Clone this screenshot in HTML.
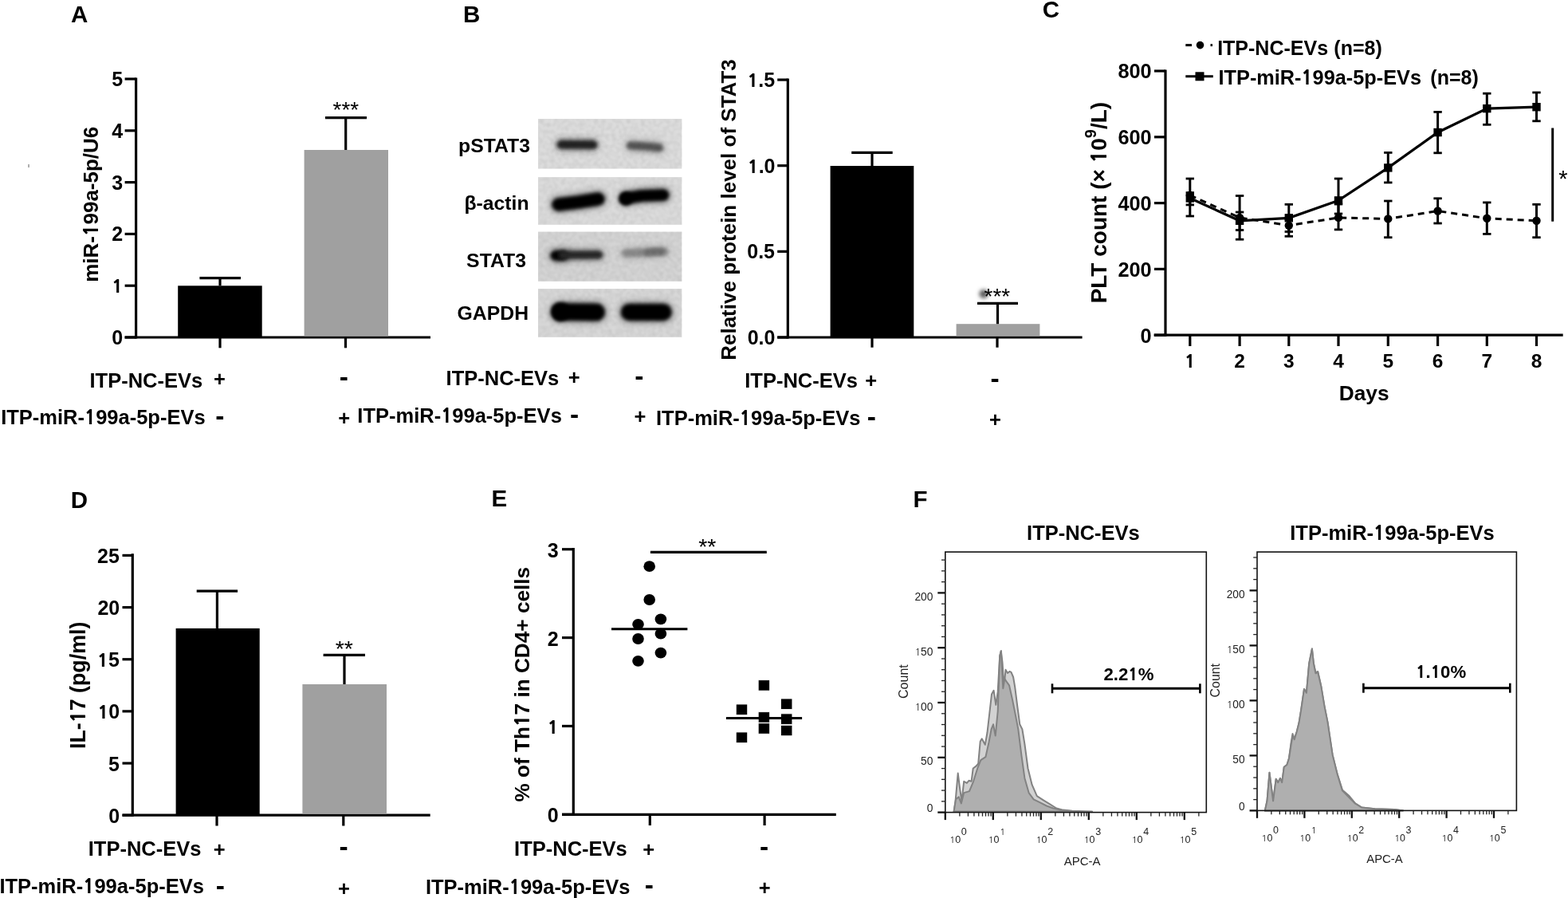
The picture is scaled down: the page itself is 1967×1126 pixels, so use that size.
<!DOCTYPE html>
<html><head><meta charset="utf-8"><style>
html,body{margin:0;padding:0;background:#fff;}
svg{display:block;}
text{font-family:'Liberation Sans', Arial, sans-serif;}
</style></head><body>
<svg width="1967" height="1126" viewBox="0 0 1967 1126">
<rect width="1967" height="1126" fill="#fff"/>
<text x="89.05" y="28.20" font-size="29.5" font-weight="bold" fill="#000" >A</text>
<line x1="170.60" y1="424.60" x2="170.60" y2="97.40" stroke="#000" stroke-width="3.2" />
<line x1="156.60" y1="423.00" x2="170.60" y2="423.00" stroke="#000" stroke-width="3.2" />
<text x="140.32" y="431.95" font-size="25" font-weight="bold" fill="#000" >0</text>
<line x1="156.60" y1="358.20" x2="170.60" y2="358.20" stroke="#000" stroke-width="3.2" />
<text x="140.37" y="367.15" font-size="25" font-weight="bold" fill="#000" ><tspan font-family="NanumGothic, Liberation Sans, sans-serif" font-weight="800" font-size="22.93">1</tspan></text>
<line x1="156.60" y1="293.40" x2="170.60" y2="293.40" stroke="#000" stroke-width="3.2" />
<text x="140.32" y="302.35" font-size="25" font-weight="bold" fill="#000" >2</text>
<line x1="156.60" y1="228.60" x2="170.60" y2="228.60" stroke="#000" stroke-width="3.2" />
<text x="140.32" y="237.55" font-size="25" font-weight="bold" fill="#000" >3</text>
<line x1="156.60" y1="163.80" x2="170.60" y2="163.80" stroke="#000" stroke-width="3.2" />
<text x="140.32" y="172.75" font-size="25" font-weight="bold" fill="#000" >4</text>
<line x1="156.60" y1="99.00" x2="170.60" y2="99.00" stroke="#000" stroke-width="3.2" />
<text x="140.32" y="107.95" font-size="25" font-weight="bold" fill="#000" >5</text>
<line x1="156.60" y1="423.00" x2="540.00" y2="423.00" stroke="#000" stroke-width="3.2" />
<rect x="223.20" y="358.30" width="105.50" height="64.70" fill="#000" />
<line x1="276.00" y1="358.30" x2="276.00" y2="348.60" stroke="#000" stroke-width="3.2" />
<line x1="250.40" y1="348.60" x2="302.00" y2="348.60" stroke="#000" stroke-width="3.2" />
<rect x="381.60" y="188.00" width="105.40" height="233.40" fill="#a0a0a0" />
<line x1="433.70" y1="188.00" x2="433.70" y2="147.70" stroke="#000" stroke-width="3.2" />
<line x1="408.00" y1="147.70" x2="460.00" y2="147.70" stroke="#000" stroke-width="3.2" />
<text x="417.49" y="147.01" font-size="28" font-weight="normal" fill="#000" >***</text>
<line x1="276.00" y1="423.00" x2="276.00" y2="436.30" stroke="#000" stroke-width="3.2" />
<line x1="433.50" y1="423.00" x2="433.50" y2="436.30" stroke="#000" stroke-width="3.2" />
<text x="123.20" y="353.74" transform="rotate(-90 123.20 353.74)" font-size="26" font-weight="bold" fill="#000">miR-<tspan font-family="NanumGothic, Liberation Sans, sans-serif" font-weight="800" font-size="23.84">1</tspan>99a-5p/U6</text>
<text x="112.51" y="485.80" font-size="25.5" font-weight="bold" fill="#000" >ITP-NC-EVs</text>
<text x="268.00" y="484.10" font-size="25.5" font-weight="bold" fill="#000" >+</text>
<text x="425.74" y="483.82" font-size="33.5" font-weight="bold" fill="#000" >-</text>
<text x="1.14" y="532.00" font-size="25.5" font-weight="bold" fill="#000" >ITP-miR-<tspan font-family="NanumGothic, Liberation Sans, sans-serif" font-weight="800" font-size="23.38">1</tspan>99a-5p-EVs</text>
<text x="270.14" y="533.23" font-size="33.5" font-weight="bold" fill="#000" >-</text>
<text x="424.30" y="533.00" font-size="25.5" font-weight="bold" fill="#000" >+</text>
<rect x="35.00" y="206.00" width="2.00" height="4.00" fill="#b0b0b0" />
<text x="581.00" y="28.10" font-size="29.5" font-weight="bold" fill="#000" >B</text>
<rect x="675.00" y="149.00" width="180.30" height="62.50" fill="#dedede" />
<rect x="675.00" y="222.10" width="180.30" height="59.70" fill="#dddddd" />
<rect x="675.00" y="290.60" width="180.30" height="62.20" fill="#d6d6d6" />
<rect x="675.00" y="362.10" width="180.30" height="60.70" fill="#d9d9d9" />
<defs>
<filter id="bb" filterUnits="userSpaceOnUse" x="660" y="140" width="210" height="290"><feGaussianBlur stdDeviation="2.3"/></filter>
<filter id="bh" filterUnits="userSpaceOnUse" x="660" y="140" width="210" height="290"><feGaussianBlur stdDeviation="4.5"/></filter>
<filter id="sm" x="-100%" y="-100%" width="300%" height="300%"><feGaussianBlur stdDeviation="2.4"/></filter>
<filter id="grain" x="0" y="0" width="100%" height="100%"><feTurbulence type="fractalNoise" baseFrequency="0.22" numOctaves="2" seed="7" result="n"/><feColorMatrix in="n" type="matrix" values="0 0 0 0 0  0 0 0 0 0  0 0 0 0 0  0.16 0 0 0 -0.05"/><feGaussianBlur stdDeviation="0.9"/></filter>
</defs>
<polyline points="704,181.3 744,181.6" fill="none" stroke="#242424" stroke-width="14.5" stroke-linecap="round" stroke-linejoin="round" opacity="0.45" filter="url(#bh)"/>
<polyline points="704,181.3 744,181.6" fill="none" stroke="#242424" stroke-width="10.5" stroke-linecap="round" stroke-linejoin="round" filter="url(#bb)"/>
<polyline points="791,182.4 810,183.6 827,185.3" fill="none" stroke="#545454" stroke-width="13.5" stroke-linecap="round" stroke-linejoin="round" opacity="0.45" filter="url(#bh)"/>
<polyline points="791,182.4 810,183.6 827,185.3" fill="none" stroke="#545454" stroke-width="9.5" stroke-linecap="round" stroke-linejoin="round" filter="url(#bb)"/>
<polyline points="700.5,256.5 725,253.5 750.5,249.5" fill="none" stroke="#000" stroke-width="20" stroke-linecap="round" stroke-linejoin="round" opacity="0.45" filter="url(#bh)"/>
<polyline points="700.5,256.5 725,253.5 750.5,249.5" fill="none" stroke="#000" stroke-width="16" stroke-linecap="round" stroke-linejoin="round" filter="url(#bb)"/>
<circle cx="785" cy="249.3" r="8.5" fill="#000" filter="url(#bb)"/>
<polyline points="785,248.5 805,245.5 832,244.6" fill="none" stroke="#000" stroke-width="18.5" stroke-linecap="round" stroke-linejoin="round" opacity="0.45" filter="url(#bh)"/>
<polyline points="785,248.5 805,245.5 832,244.6" fill="none" stroke="#000" stroke-width="14.5" stroke-linecap="round" stroke-linejoin="round" filter="url(#bb)"/>
<polyline points="697,320.4 706,320.4" fill="none" stroke="#000" stroke-width="16.5" stroke-linecap="round" stroke-linejoin="round" opacity="0.45" filter="url(#bh)"/>
<polyline points="697,320.4 706,320.4" fill="none" stroke="#000" stroke-width="12.5" stroke-linecap="round" stroke-linejoin="round" filter="url(#bb)"/>
<polyline points="706,319.8 751,319.6" fill="none" stroke="#262626" stroke-width="14" stroke-linecap="round" stroke-linejoin="round" opacity="0.45" filter="url(#bh)"/>
<polyline points="706,319.8 751,319.6" fill="none" stroke="#262626" stroke-width="10" stroke-linecap="round" stroke-linejoin="round" filter="url(#bb)"/>
<polyline points="785,317.4 810,316.5 833,315.4" fill="none" stroke="#8a8a8a" stroke-width="13.5" stroke-linecap="round" stroke-linejoin="round" opacity="0.45" filter="url(#bh)"/>
<polyline points="785,317.4 810,316.5 833,315.4" fill="none" stroke="#8a8a8a" stroke-width="9.5" stroke-linecap="round" stroke-linejoin="round" filter="url(#bb)"/>
<polyline points="812,316.3 830,315.5" fill="none" stroke="#6e6e6e" stroke-width="11" stroke-linecap="round" stroke-linejoin="round" opacity="0.2" filter="url(#bh)"/>
<polyline points="812,316.3 830,315.5" fill="none" stroke="#6e6e6e" stroke-width="7" stroke-linecap="round" stroke-linejoin="round" filter="url(#bb)"/>
<polyline points="703,391 748,391.5" fill="none" stroke="#000" stroke-width="25.5" stroke-linecap="round" stroke-linejoin="round" opacity="0.45" filter="url(#bh)"/>
<polyline points="703,391 748,391.5" fill="none" stroke="#000" stroke-width="21.5" stroke-linecap="round" stroke-linejoin="round" filter="url(#bb)"/>
<circle cx="703" cy="391" r="11.5" fill="#000" filter="url(#bb)"/>
<polyline points="789.5,391.4 832,391.4" fill="none" stroke="#000" stroke-width="25" stroke-linecap="round" stroke-linejoin="round" opacity="0.45" filter="url(#bh)"/>
<polyline points="789.5,391.4 832,391.4" fill="none" stroke="#000" stroke-width="21" stroke-linecap="round" stroke-linejoin="round" filter="url(#bb)"/>
<rect x="675" y="149" width="180.3" height="62.5" fill="#000" filter="url(#grain)"/>
<rect x="675" y="222.1" width="180.3" height="59.7" fill="#000" filter="url(#grain)"/>
<rect x="675" y="290.6" width="180.3" height="62.2" fill="#000" filter="url(#grain)"/>
<rect x="675" y="362.1" width="180.3" height="60.7" fill="#000" filter="url(#grain)"/>
<text x="575.00" y="191.40" font-size="24.8" font-weight="bold" fill="#000" >pSTAT3</text>
<text x="582.38" y="262.60" font-size="24.8" font-weight="bold" fill="#000" >β-actin</text>
<text x="585.12" y="334.50" font-size="24.8" font-weight="bold" fill="#000" >STAT3</text>
<text x="573.55" y="401.00" font-size="24.8" font-weight="bold" fill="#000" >GAPDH</text>
<line x1="988.30" y1="424.60" x2="988.30" y2="98.50" stroke="#000" stroke-width="3.2" />
<line x1="975.20" y1="423.00" x2="988.30" y2="423.00" stroke="#000" stroke-width="3.2" />
<text x="937.65" y="431.95" font-size="25" font-weight="bold" fill="#000" >0.0</text>
<line x1="975.20" y1="315.35" x2="988.30" y2="315.35" stroke="#000" stroke-width="3.2" />
<text x="937.27" y="324.30" font-size="25" font-weight="bold" fill="#000" >0.5</text>
<line x1="975.20" y1="207.70" x2="988.30" y2="207.70" stroke="#000" stroke-width="3.2" />
<text x="937.77" y="216.65" font-size="25" font-weight="bold" fill="#000" ><tspan font-family="NanumGothic, Liberation Sans, sans-serif" font-weight="800" font-size="22.93">1</tspan>.0</text>
<line x1="975.20" y1="100.05" x2="988.30" y2="100.05" stroke="#000" stroke-width="3.2" />
<text x="937.40" y="109.00" font-size="25" font-weight="bold" fill="#000" ><tspan font-family="NanumGothic, Liberation Sans, sans-serif" font-weight="800" font-size="22.93">1</tspan>.5</text>
<line x1="975.20" y1="423.00" x2="1357.60" y2="423.00" stroke="#000" stroke-width="3.2" />
<rect x="1041.60" y="208.00" width="104.70" height="215.00" fill="#000" />
<line x1="1094.00" y1="208.00" x2="1094.00" y2="191.40" stroke="#000" stroke-width="3.2" />
<line x1="1068.20" y1="191.40" x2="1119.70" y2="191.40" stroke="#000" stroke-width="3.2" />
<rect x="1199.60" y="406.20" width="104.80" height="15.20" fill="#a0a0a0" />
<line x1="1251.50" y1="406.20" x2="1251.50" y2="380.30" stroke="#000" stroke-width="3.2" />
<line x1="1226.00" y1="380.30" x2="1277.00" y2="380.30" stroke="#000" stroke-width="3.2" />
<circle cx="1234" cy="368.5" r="5.5" fill="#5a5a5a" filter="url(#sm)"/>
<text x="1234.49" y="380.61" font-size="28" font-weight="normal" fill="#000" >***</text>
<line x1="1094.00" y1="423.00" x2="1094.00" y2="435.70" stroke="#000" stroke-width="3.2" />
<line x1="1251.00" y1="423.00" x2="1251.00" y2="435.70" stroke="#000" stroke-width="3.2" />
<text x="922.90" y="451.79" transform="rotate(-90 922.90 451.79)" font-size="26" font-weight="bold" fill="#000">Relative protein level of STAT3</text>
<text x="559.58" y="482.80" font-size="25.5" font-weight="bold" fill="#000" >ITP-NC-EVs</text>
<text x="712.80" y="481.50" font-size="25.5" font-weight="bold" fill="#000" >+</text>
<text x="796.24" y="483.12" font-size="33.5" font-weight="bold" fill="#000" >-</text>
<text x="448.33" y="529.60" font-size="25.5" font-weight="bold" fill="#000" >ITP-miR-<tspan font-family="NanumGothic, Liberation Sans, sans-serif" font-weight="800" font-size="23.38">1</tspan>99a-5p-EVs</text>
<text x="715.04" y="530.62" font-size="33.5" font-weight="bold" fill="#000" >-</text>
<text x="795.50" y="531.10" font-size="25.5" font-weight="bold" fill="#000" >+</text>
<text x="934.28" y="486.00" font-size="25.5" font-weight="bold" fill="#000" >ITP-NC-EVs</text>
<text x="1085.30" y="485.50" font-size="25.5" font-weight="bold" fill="#000" >+</text>
<text x="1242.44" y="485.93" font-size="33.5" font-weight="bold" fill="#000" >-</text>
<text x="823.03" y="532.70" font-size="25.5" font-weight="bold" fill="#000" >ITP-miR-<tspan font-family="NanumGothic, Liberation Sans, sans-serif" font-weight="800" font-size="23.38">1</tspan>99a-5p-EVs</text>
<text x="1087.64" y="534.12" font-size="33.5" font-weight="bold" fill="#000" >-</text>
<text x="1241.00" y="534.70" font-size="25.5" font-weight="bold" fill="#000" >+</text>
<text x="1307.75" y="22.10" font-size="29.5" font-weight="bold" fill="#000" >C</text>
<line x1="1462.00" y1="421.80" x2="1462.00" y2="87.50" stroke="#000" stroke-width="3.2" />
<line x1="1448.00" y1="420.20" x2="1462.00" y2="420.20" stroke="#000" stroke-width="3.2" />
<text x="1430.60" y="429.60" font-size="25.3" font-weight="bold" fill="#000" >0</text>
<line x1="1448.00" y1="337.40" x2="1462.00" y2="337.40" stroke="#000" stroke-width="3.2" />
<text x="1402.47" y="346.80" font-size="25.3" font-weight="bold" fill="#000" >200</text>
<line x1="1448.00" y1="254.60" x2="1462.00" y2="254.60" stroke="#000" stroke-width="3.2" />
<text x="1402.47" y="264.00" font-size="25.3" font-weight="bold" fill="#000" >400</text>
<line x1="1448.00" y1="171.80" x2="1462.00" y2="171.80" stroke="#000" stroke-width="3.2" />
<text x="1402.47" y="181.20" font-size="25.3" font-weight="bold" fill="#000" >600</text>
<line x1="1448.00" y1="89.00" x2="1462.00" y2="89.00" stroke="#000" stroke-width="3.2" />
<text x="1402.47" y="98.40" font-size="25.3" font-weight="bold" fill="#000" >800</text>
<line x1="1447.60" y1="420.20" x2="1960.70" y2="420.20" stroke="#000" stroke-width="3.2" />
<line x1="1492.80" y1="420.20" x2="1492.80" y2="434.00" stroke="#000" stroke-width="3.2" />
<text x="1485.98" y="461.10" font-size="24.5" font-weight="bold" fill="#000" ><tspan font-family="NanumGothic, Liberation Sans, sans-serif" font-weight="800" font-size="22.47">1</tspan></text>
<line x1="1555.10" y1="420.20" x2="1555.10" y2="434.00" stroke="#000" stroke-width="3.2" />
<text x="1548.29" y="461.10" font-size="24.5" font-weight="bold" fill="#000" >2</text>
<line x1="1616.80" y1="420.20" x2="1616.80" y2="434.00" stroke="#000" stroke-width="3.2" />
<text x="1609.99" y="461.10" font-size="24.5" font-weight="bold" fill="#000" >3</text>
<line x1="1679.00" y1="420.20" x2="1679.00" y2="434.00" stroke="#000" stroke-width="3.2" />
<text x="1672.19" y="461.10" font-size="24.5" font-weight="bold" fill="#000" >4</text>
<line x1="1741.30" y1="420.20" x2="1741.30" y2="434.00" stroke="#000" stroke-width="3.2" />
<text x="1734.49" y="461.10" font-size="24.5" font-weight="bold" fill="#000" >5</text>
<line x1="1803.60" y1="420.20" x2="1803.60" y2="434.00" stroke="#000" stroke-width="3.2" />
<text x="1796.79" y="461.10" font-size="24.5" font-weight="bold" fill="#000" >6</text>
<line x1="1865.30" y1="420.20" x2="1865.30" y2="434.00" stroke="#000" stroke-width="3.2" />
<text x="1858.49" y="461.10" font-size="24.5" font-weight="bold" fill="#000" >7</text>
<line x1="1927.50" y1="420.20" x2="1927.50" y2="434.00" stroke="#000" stroke-width="3.2" />
<text x="1920.69" y="461.10" font-size="24.5" font-weight="bold" fill="#000" >8</text>
<text x="1679.71" y="501.50" font-size="26.3" font-weight="bold" fill="#000" >Days</text>
<line x1="1492.80" y1="241.60" x2="1492.80" y2="256.90" stroke="#000" stroke-width="3" />
<line x1="1487.60" y1="241.60" x2="1498.00" y2="241.60" stroke="#000" stroke-width="2.8" />
<line x1="1487.60" y1="256.90" x2="1498.00" y2="256.90" stroke="#000" stroke-width="2.8" />
<line x1="1555.10" y1="266.00" x2="1555.10" y2="288.50" stroke="#000" stroke-width="3" />
<line x1="1549.90" y1="266.00" x2="1560.30" y2="266.00" stroke="#000" stroke-width="2.8" />
<line x1="1549.90" y1="288.50" x2="1560.30" y2="288.50" stroke="#000" stroke-width="2.8" />
<line x1="1616.80" y1="275.00" x2="1616.80" y2="296.30" stroke="#000" stroke-width="3" />
<line x1="1611.60" y1="275.00" x2="1622.00" y2="275.00" stroke="#000" stroke-width="2.8" />
<line x1="1611.60" y1="296.30" x2="1622.00" y2="296.30" stroke="#000" stroke-width="2.8" />
<line x1="1679.00" y1="256.00" x2="1679.00" y2="287.90" stroke="#000" stroke-width="3" />
<line x1="1673.80" y1="256.00" x2="1684.20" y2="256.00" stroke="#000" stroke-width="2.8" />
<line x1="1673.80" y1="287.90" x2="1684.20" y2="287.90" stroke="#000" stroke-width="2.8" />
<line x1="1741.30" y1="252.00" x2="1741.30" y2="297.70" stroke="#000" stroke-width="3" />
<line x1="1736.10" y1="252.00" x2="1746.50" y2="252.00" stroke="#000" stroke-width="2.8" />
<line x1="1736.10" y1="297.70" x2="1746.50" y2="297.70" stroke="#000" stroke-width="2.8" />
<line x1="1803.60" y1="248.80" x2="1803.60" y2="280.00" stroke="#000" stroke-width="3" />
<line x1="1798.40" y1="248.80" x2="1808.80" y2="248.80" stroke="#000" stroke-width="2.8" />
<line x1="1798.40" y1="280.00" x2="1808.80" y2="280.00" stroke="#000" stroke-width="2.8" />
<line x1="1865.30" y1="253.90" x2="1865.30" y2="293.40" stroke="#000" stroke-width="3" />
<line x1="1860.10" y1="253.90" x2="1870.50" y2="253.90" stroke="#000" stroke-width="2.8" />
<line x1="1860.10" y1="293.40" x2="1870.50" y2="293.40" stroke="#000" stroke-width="2.8" />
<line x1="1927.50" y1="256.30" x2="1927.50" y2="297.70" stroke="#000" stroke-width="3" />
<line x1="1922.30" y1="256.30" x2="1932.70" y2="256.30" stroke="#000" stroke-width="2.8" />
<line x1="1922.30" y1="297.70" x2="1932.70" y2="297.70" stroke="#000" stroke-width="2.8" />
<line x1="1492.80" y1="224.00" x2="1492.80" y2="271.00" stroke="#000" stroke-width="3" />
<line x1="1487.60" y1="224.00" x2="1498.00" y2="224.00" stroke="#000" stroke-width="2.8" />
<line x1="1487.60" y1="271.00" x2="1498.00" y2="271.00" stroke="#000" stroke-width="2.8" />
<line x1="1555.10" y1="245.50" x2="1555.10" y2="300.20" stroke="#000" stroke-width="3" />
<line x1="1549.90" y1="245.50" x2="1560.30" y2="245.50" stroke="#000" stroke-width="2.8" />
<line x1="1549.90" y1="300.20" x2="1560.30" y2="300.20" stroke="#000" stroke-width="2.8" />
<line x1="1616.80" y1="256.30" x2="1616.80" y2="290.50" stroke="#000" stroke-width="3" />
<line x1="1611.60" y1="256.30" x2="1622.00" y2="256.30" stroke="#000" stroke-width="2.8" />
<line x1="1611.60" y1="290.50" x2="1622.00" y2="290.50" stroke="#000" stroke-width="2.8" />
<line x1="1679.00" y1="224.00" x2="1679.00" y2="268.00" stroke="#000" stroke-width="3" />
<line x1="1673.80" y1="224.00" x2="1684.20" y2="224.00" stroke="#000" stroke-width="2.8" />
<line x1="1673.80" y1="268.00" x2="1684.20" y2="268.00" stroke="#000" stroke-width="2.8" />
<line x1="1741.30" y1="191.40" x2="1741.30" y2="228.90" stroke="#000" stroke-width="3" />
<line x1="1736.10" y1="191.40" x2="1746.50" y2="191.40" stroke="#000" stroke-width="2.8" />
<line x1="1736.10" y1="228.90" x2="1746.50" y2="228.90" stroke="#000" stroke-width="2.8" />
<line x1="1803.60" y1="140.40" x2="1803.60" y2="191.80" stroke="#000" stroke-width="3" />
<line x1="1798.40" y1="140.40" x2="1808.80" y2="140.40" stroke="#000" stroke-width="2.8" />
<line x1="1798.40" y1="191.80" x2="1808.80" y2="191.80" stroke="#000" stroke-width="2.8" />
<line x1="1865.30" y1="117.20" x2="1865.30" y2="156.30" stroke="#000" stroke-width="3" />
<line x1="1860.10" y1="117.20" x2="1870.50" y2="117.20" stroke="#000" stroke-width="2.8" />
<line x1="1860.10" y1="156.30" x2="1870.50" y2="156.30" stroke="#000" stroke-width="2.8" />
<line x1="1927.50" y1="116.00" x2="1927.50" y2="151.80" stroke="#000" stroke-width="3" />
<line x1="1922.30" y1="116.00" x2="1932.70" y2="116.00" stroke="#000" stroke-width="2.8" />
<line x1="1922.30" y1="151.80" x2="1932.70" y2="151.80" stroke="#000" stroke-width="2.8" />
<polyline points="1492.8,244.8 1555.1,272.9 1616.8,282.7 1679,272.9 1741.3,274.4 1803.6,264.5 1865.3,273.8 1927.5,276.8" fill="none" stroke="#000" stroke-width="3" stroke-dasharray="8 6"/>
<polyline points="1492.8,248.5 1555.1,276.8 1616.8,273.3 1679,251.4 1741.3,210.4 1803.6,166 1865.3,136.1 1927.5,134.2" fill="none" stroke="#000" stroke-width="3.2"/>
<circle cx="1492.8" cy="244.8" r="5.2" fill="#000"/>
<circle cx="1555.1" cy="272.9" r="5.2" fill="#000"/>
<circle cx="1616.8" cy="282.7" r="5.2" fill="#000"/>
<circle cx="1679" cy="272.9" r="5.2" fill="#000"/>
<circle cx="1741.3" cy="274.4" r="5.2" fill="#000"/>
<circle cx="1803.6" cy="264.5" r="5.2" fill="#000"/>
<circle cx="1865.3" cy="273.8" r="5.2" fill="#000"/>
<circle cx="1927.5" cy="276.8" r="5.2" fill="#000"/>
<rect x="1487.60" y="243.30" width="10.40" height="10.40" fill="#000" />
<rect x="1549.90" y="271.60" width="10.40" height="10.40" fill="#000" />
<rect x="1611.60" y="268.10" width="10.40" height="10.40" fill="#000" />
<rect x="1673.80" y="246.20" width="10.40" height="10.40" fill="#000" />
<rect x="1736.10" y="205.20" width="10.40" height="10.40" fill="#000" />
<rect x="1798.40" y="160.80" width="10.40" height="10.40" fill="#000" />
<rect x="1860.10" y="130.90" width="10.40" height="10.40" fill="#000" />
<rect x="1922.30" y="129.00" width="10.40" height="10.40" fill="#000" />
<line x1="1487.30" y1="56.60" x2="1495.00" y2="56.60" stroke="#000" stroke-width="3" />
<circle cx="1505.5" cy="56.6" r="4.8" fill="#000"/>
<line x1="1518.50" y1="56.60" x2="1521.00" y2="56.60" stroke="#000" stroke-width="3" />
<text x="1527.17" y="69.30" font-size="25" font-weight="bold" fill="#000" >ITP-NC-EVs</text>
<text x="1673.35" y="69.30" font-size="25" font-weight="bold" fill="#000" >(n=8)</text>
<line x1="1487.30" y1="95.80" x2="1521.80" y2="95.80" stroke="#000" stroke-width="3" />
<rect x="1499.50" y="90.30" width="11.00" height="11.00" fill="#000" />
<text x="1528.55" y="106.20" font-size="25.3" font-weight="bold" fill="#000" >ITP-miR-<tspan font-family="NanumGothic, Liberation Sans, sans-serif" font-weight="800" font-size="23.20">1</tspan>99a-5p-EVs</text>
<text x="1794.35" y="106.20" font-size="25" font-weight="bold" fill="#000" >(n=8)</text>
<line x1="1947.70" y1="160.50" x2="1947.70" y2="277.70" stroke="#000" stroke-width="3" />
<text x="1955.17" y="233.64" font-size="29" font-weight="normal" fill="#000" >*</text>
<text x="1387.6" y="380.34" transform="rotate(-90 1387.6 380.34)" font-size="28" font-weight="bold">PLT count (× <tspan font-family="NanumGothic, Liberation Sans, sans-serif" font-weight="800" font-size="25.68">1</tspan>0<tspan font-size="20" dy="-12.5">9</tspan><tspan dy="12.5">/L)</tspan></text>
<text x="88.80" y="637.00" font-size="29.5" font-weight="bold" fill="#000" >D</text>
<line x1="166.30" y1="1023.80" x2="166.30" y2="694.20" stroke="#000" stroke-width="3.2" />
<line x1="153.50" y1="1022.20" x2="166.30" y2="1022.20" stroke="#000" stroke-width="3.2" />
<text x="136.32" y="1031.75" font-size="25" font-weight="bold" fill="#000" >0</text>
<line x1="153.50" y1="957.04" x2="166.30" y2="957.04" stroke="#000" stroke-width="3.2" />
<text x="135.95" y="966.59" font-size="25" font-weight="bold" fill="#000" >5</text>
<line x1="153.50" y1="891.88" x2="166.30" y2="891.88" stroke="#000" stroke-width="3.2" />
<text x="122.45" y="901.43" font-size="25" font-weight="bold" fill="#000" ><tspan font-family="NanumGothic, Liberation Sans, sans-serif" font-weight="800" font-size="22.93">1</tspan>0</text>
<line x1="153.50" y1="826.72" x2="166.30" y2="826.72" stroke="#000" stroke-width="3.2" />
<text x="122.07" y="836.27" font-size="25" font-weight="bold" fill="#000" ><tspan font-family="NanumGothic, Liberation Sans, sans-serif" font-weight="800" font-size="22.93">1</tspan>5</text>
<line x1="153.50" y1="761.56" x2="166.30" y2="761.56" stroke="#000" stroke-width="3.2" />
<text x="122.45" y="771.11" font-size="25" font-weight="bold" fill="#000" >20</text>
<line x1="153.50" y1="696.40" x2="166.30" y2="696.40" stroke="#000" stroke-width="3.2" />
<text x="122.07" y="705.95" font-size="25" font-weight="bold" fill="#000" >25</text>
<line x1="153.50" y1="1022.20" x2="539.70" y2="1022.20" stroke="#000" stroke-width="3.2" />
<rect x="220.60" y="787.90" width="105.10" height="234.30" fill="#000" />
<line x1="272.40" y1="787.90" x2="272.40" y2="741.10" stroke="#000" stroke-width="3.2" />
<line x1="246.70" y1="741.10" x2="298.10" y2="741.10" stroke="#000" stroke-width="3.2" />
<rect x="379.40" y="858.00" width="105.60" height="162.60" fill="#a0a0a0" />
<line x1="432.00" y1="858.00" x2="432.00" y2="821.30" stroke="#000" stroke-width="3.2" />
<line x1="405.60" y1="821.30" x2="458.00" y2="821.30" stroke="#000" stroke-width="3.2" />
<text x="420.68" y="823.23" font-size="28.5" font-weight="normal" fill="#000" >**</text>
<line x1="272.00" y1="1022.20" x2="272.00" y2="1035.50" stroke="#000" stroke-width="3.2" />
<line x1="430.80" y1="1022.20" x2="430.80" y2="1035.50" stroke="#000" stroke-width="3.2" />
<text x="106.60" y="938.95" transform="rotate(-90 106.60 938.95)" font-size="26.8" font-weight="bold" fill="#000">IL-<tspan font-family="NanumGothic, Liberation Sans, sans-serif" font-weight="800" font-size="24.58">1</tspan>7 (pg/ml)</text>
<text x="110.78" y="1073.00" font-size="25.5" font-weight="bold" fill="#000" >ITP-NC-EVs</text>
<text x="267.70" y="1073.50" font-size="25.5" font-weight="bold" fill="#000" >+</text>
<text x="425.54" y="1073.22" font-size="33.5" font-weight="bold" fill="#000" >-</text>
<text x="-0.57" y="1120.00" font-size="25.5" font-weight="bold" fill="#000" >ITP-miR-<tspan font-family="NanumGothic, Liberation Sans, sans-serif" font-weight="800" font-size="23.38">1</tspan>99a-5p-EVs</text>
<text x="270.84" y="1121.83" font-size="33.5" font-weight="bold" fill="#000" >-</text>
<text x="424.00" y="1122.50" font-size="25.5" font-weight="bold" fill="#000" >+</text>
<text x="616.60" y="634.50" font-size="29.5" font-weight="bold" fill="#000" >E</text>
<line x1="719.30" y1="1022.90" x2="719.30" y2="687.10" stroke="#000" stroke-width="3.2" />
<line x1="705.00" y1="1021.30" x2="719.30" y2="1021.30" stroke="#000" stroke-width="3.2" />
<text x="686.83" y="1031.25" font-size="25" font-weight="bold" fill="#000" >0</text>
<line x1="705.00" y1="910.45" x2="719.30" y2="910.45" stroke="#000" stroke-width="3.2" />
<text x="686.87" y="920.40" font-size="25" font-weight="bold" fill="#000" ><tspan font-family="NanumGothic, Liberation Sans, sans-serif" font-weight="800" font-size="22.93">1</tspan></text>
<line x1="705.00" y1="799.60" x2="719.30" y2="799.60" stroke="#000" stroke-width="3.2" />
<text x="686.83" y="809.55" font-size="25" font-weight="bold" fill="#000" >2</text>
<line x1="705.00" y1="688.75" x2="719.30" y2="688.75" stroke="#000" stroke-width="3.2" />
<text x="686.83" y="698.70" font-size="25" font-weight="bold" fill="#000" >3</text>
<line x1="705.00" y1="1021.30" x2="1048.80" y2="1021.30" stroke="#000" stroke-width="3.2" />
<line x1="815.30" y1="1021.30" x2="815.30" y2="1035.00" stroke="#000" stroke-width="3.2" />
<line x1="959.10" y1="1021.30" x2="959.10" y2="1035.00" stroke="#000" stroke-width="3.2" />
<line x1="815.90" y1="692.30" x2="961.80" y2="692.30" stroke="#000" stroke-width="3.2" />
<text x="876.27" y="694.83" font-size="28.5" font-weight="normal" fill="#000" >**</text>
<ellipse cx="814.7" cy="710.2" rx="7.3" ry="6.9" fill="#000"/>
<ellipse cx="814.7" cy="752" rx="7.3" ry="6.9" fill="#000"/>
<ellipse cx="828.9" cy="776.3" rx="7.3" ry="6.9" fill="#000"/>
<ellipse cx="800.5" cy="782.8" rx="7.3" ry="6.9" fill="#000"/>
<ellipse cx="828.9" cy="794.7" rx="7.3" ry="6.9" fill="#000"/>
<ellipse cx="800.5" cy="801" rx="7.3" ry="6.9" fill="#000"/>
<ellipse cx="828.9" cy="818.6" rx="7.3" ry="6.9" fill="#000"/>
<ellipse cx="800.5" cy="828.8" rx="7.3" ry="6.9" fill="#000"/>
<line x1="767.00" y1="788.80" x2="862.40" y2="788.80" stroke="#000" stroke-width="3" />
<rect x="951.20" y="852.70" width="14.40" height="13.40" fill="#000" stroke="#fff" stroke-width="0.8"/>
<rect x="923.30" y="883.00" width="14.40" height="13.40" fill="#000" stroke="#fff" stroke-width="0.8"/>
<rect x="979.50" y="876.00" width="14.40" height="13.40" fill="#000" stroke="#fff" stroke-width="0.8"/>
<rect x="951.20" y="892.70" width="14.40" height="13.40" fill="#000" stroke="#fff" stroke-width="0.8"/>
<rect x="979.50" y="894.90" width="14.40" height="13.40" fill="#000" stroke="#fff" stroke-width="0.8"/>
<rect x="951.20" y="906.80" width="14.40" height="13.40" fill="#000" stroke="#fff" stroke-width="0.8"/>
<rect x="979.50" y="909.30" width="14.40" height="13.40" fill="#000" stroke="#fff" stroke-width="0.8"/>
<rect x="923.30" y="918.00" width="14.40" height="13.40" fill="#000" stroke="#fff" stroke-width="0.8"/>
<line x1="910.90" y1="900.60" x2="1006.10" y2="900.60" stroke="#000" stroke-width="3" />
<text x="663.60" y="1005.54" transform="rotate(-90 663.60 1005.54)" font-size="26.2" font-weight="bold" fill="#000">% of Th<tspan font-family="NanumGothic, Liberation Sans, sans-serif" font-weight="800" font-size="24.03">1</tspan>7 in CD4+ cells</text>
<text x="645.08" y="1072.90" font-size="25.5" font-weight="bold" fill="#000" >ITP-NC-EVs</text>
<text x="806.30" y="1073.50" font-size="25.5" font-weight="bold" fill="#000" >+</text>
<text x="952.94" y="1073.12" font-size="33.5" font-weight="bold" fill="#000" >-</text>
<text x="533.92" y="1120.50" font-size="25.5" font-weight="bold" fill="#000" >ITP-miR-<tspan font-family="NanumGothic, Liberation Sans, sans-serif" font-weight="800" font-size="23.38">1</tspan>99a-5p-EVs</text>
<text x="808.84" y="1121.42" font-size="33.5" font-weight="bold" fill="#000" >-</text>
<text x="951.80" y="1122.00" font-size="25.5" font-weight="bold" fill="#000" >+</text>
<text x="1145.50" y="636.10" font-size="29.5" font-weight="bold" fill="#000" >F</text>
<path d="M1196.6,1017.6 L1198.6,1004.3 L1201.7,969.6 L1204.3,990.0 L1206.4,1004.3 L1209.2,979.8 L1212.9,981.9 L1215.4,978.8 L1218.6,979.8 L1220.7,963.5 L1224.8,960.4 L1227.2,957.3 L1229.7,929.7 L1231.7,926.3 L1235.8,933.8 L1238.5,918.5 L1241.1,896.0 L1244.0,870.5 L1246.6,865.8 L1249.3,883.8 L1251.7,867.4 L1254.2,822.5 L1255.8,816.3 L1257.5,830.6 L1259.5,861.3 L1261.5,839.8 L1264.0,843.9 L1266.4,841.9 L1268.5,842.9 L1271.1,849.0 L1273.2,861.3 L1276.3,885.8 L1279.3,908.3 L1282.4,914.4 L1285.4,932.8 L1289.5,963.5 L1294.6,983.9 L1300.8,998.2 L1308.9,1003.3 L1317.1,1008.4 L1325.3,1013.5 L1333.5,1015.6 L1345.0,1016.8 L1370.0,1017.6 Z" fill="#d2d2d2" stroke="#828282" stroke-width="2" stroke-linejoin="round"/>
<path d="M1196.6,1017.6 L1199.0,1002.3 L1202.7,999.2 L1205.8,1007.4 L1209.2,994.1 L1216.0,992.1 L1221.1,979.8 L1226.2,963.5 L1230.3,953.2 L1236.4,949.2 L1240.5,930.8 L1243.6,914.4 L1246.0,908.3 L1248.7,922.6 L1251.7,892.0 L1254.2,822.5 L1255.8,816.3 L1258.3,863.3 L1260.3,851.1 L1263.0,855.2 L1266.0,859.3 L1270.1,877.6 L1274.2,898.1 L1277.3,914.4 L1281.4,947.1 L1285.4,975.7 L1290.6,994.1 L1296.7,1002.3 L1304.9,1006.4 L1313.0,1010.5 L1321.2,1013.5 L1333.5,1016.2 L1350.0,1017.6 Z" fill="#afafaf" stroke="#828282" stroke-width="2" stroke-linejoin="round"/>
<rect x="1185.8" y="692.1" width="327.5" height="326.5" fill="none" stroke="#111" stroke-width="1.6"/>
<line x1="1176.30" y1="1018.60" x2="1185.80" y2="1018.60" stroke="#111" stroke-width="2.3" />
<text x="1162.67" y="1018.10" font-size="13.8" font-weight="normal" fill="#222" >0</text>
<line x1="1181.00" y1="1004.84" x2="1185.80" y2="1004.84" stroke="#222" stroke-width="1.3" />
<line x1="1181.00" y1="991.08" x2="1185.80" y2="991.08" stroke="#222" stroke-width="1.3" />
<line x1="1181.00" y1="977.32" x2="1185.80" y2="977.32" stroke="#222" stroke-width="1.3" />
<line x1="1181.00" y1="963.56" x2="1185.80" y2="963.56" stroke="#222" stroke-width="1.3" />
<line x1="1176.30" y1="949.80" x2="1185.80" y2="949.80" stroke="#111" stroke-width="2.3" />
<text x="1155.05" y="959.30" font-size="13.8" font-weight="normal" fill="#222" >50</text>
<line x1="1181.00" y1="936.04" x2="1185.80" y2="936.04" stroke="#222" stroke-width="1.3" />
<line x1="1181.00" y1="922.28" x2="1185.80" y2="922.28" stroke="#222" stroke-width="1.3" />
<line x1="1181.00" y1="908.52" x2="1185.80" y2="908.52" stroke="#222" stroke-width="1.3" />
<line x1="1181.00" y1="894.76" x2="1185.80" y2="894.76" stroke="#222" stroke-width="1.3" />
<line x1="1176.30" y1="881.00" x2="1185.80" y2="881.00" stroke="#111" stroke-width="2.3" />
<text x="1147.42" y="890.50" font-size="13.8" font-weight="normal" fill="#222" ><tspan font-family="NanumGothic, Liberation Sans, sans-serif" font-weight="400" font-size="12.65">1</tspan>00</text>
<line x1="1181.00" y1="867.24" x2="1185.80" y2="867.24" stroke="#222" stroke-width="1.3" />
<line x1="1181.00" y1="853.48" x2="1185.80" y2="853.48" stroke="#222" stroke-width="1.3" />
<line x1="1181.00" y1="839.72" x2="1185.80" y2="839.72" stroke="#222" stroke-width="1.3" />
<line x1="1181.00" y1="825.96" x2="1185.80" y2="825.96" stroke="#222" stroke-width="1.3" />
<line x1="1176.30" y1="812.20" x2="1185.80" y2="812.20" stroke="#111" stroke-width="2.3" />
<text x="1147.42" y="821.70" font-size="13.8" font-weight="normal" fill="#222" ><tspan font-family="NanumGothic, Liberation Sans, sans-serif" font-weight="400" font-size="12.65">1</tspan>50</text>
<line x1="1181.00" y1="798.44" x2="1185.80" y2="798.44" stroke="#222" stroke-width="1.3" />
<line x1="1181.00" y1="784.68" x2="1185.80" y2="784.68" stroke="#222" stroke-width="1.3" />
<line x1="1181.00" y1="770.92" x2="1185.80" y2="770.92" stroke="#222" stroke-width="1.3" />
<line x1="1181.00" y1="757.16" x2="1185.80" y2="757.16" stroke="#222" stroke-width="1.3" />
<line x1="1176.30" y1="743.40" x2="1185.80" y2="743.40" stroke="#111" stroke-width="2.3" />
<text x="1147.42" y="752.90" font-size="13.8" font-weight="normal" fill="#222" >200</text>
<line x1="1181.00" y1="729.64" x2="1185.80" y2="729.64" stroke="#222" stroke-width="1.3" />
<line x1="1181.00" y1="715.88" x2="1185.80" y2="715.88" stroke="#222" stroke-width="1.3" />
<line x1="1181.00" y1="702.12" x2="1185.80" y2="702.12" stroke="#222" stroke-width="1.3" />
<line x1="1185.80" y1="1018.60" x2="1185.80" y2="1028.10" stroke="#111" stroke-width="2.3" />
<line x1="1203.86" y1="1018.60" x2="1203.86" y2="1023.60" stroke="#222" stroke-width="1.3" />
<line x1="1214.43" y1="1018.60" x2="1214.43" y2="1023.60" stroke="#222" stroke-width="1.3" />
<line x1="1221.92" y1="1018.60" x2="1221.92" y2="1023.60" stroke="#222" stroke-width="1.3" />
<line x1="1227.74" y1="1018.60" x2="1227.74" y2="1023.60" stroke="#222" stroke-width="1.3" />
<line x1="1232.49" y1="1018.60" x2="1232.49" y2="1023.60" stroke="#222" stroke-width="1.3" />
<line x1="1236.51" y1="1018.60" x2="1236.51" y2="1023.60" stroke="#222" stroke-width="1.3" />
<line x1="1239.99" y1="1018.60" x2="1239.99" y2="1023.60" stroke="#222" stroke-width="1.3" />
<line x1="1243.05" y1="1018.60" x2="1243.05" y2="1023.60" stroke="#222" stroke-width="1.3" />
<line x1="1245.80" y1="1018.60" x2="1245.80" y2="1028.10" stroke="#111" stroke-width="2.3" />
<line x1="1263.86" y1="1018.60" x2="1263.86" y2="1023.60" stroke="#222" stroke-width="1.3" />
<line x1="1274.43" y1="1018.60" x2="1274.43" y2="1023.60" stroke="#222" stroke-width="1.3" />
<line x1="1281.92" y1="1018.60" x2="1281.92" y2="1023.60" stroke="#222" stroke-width="1.3" />
<line x1="1287.74" y1="1018.60" x2="1287.74" y2="1023.60" stroke="#222" stroke-width="1.3" />
<line x1="1292.49" y1="1018.60" x2="1292.49" y2="1023.60" stroke="#222" stroke-width="1.3" />
<line x1="1296.51" y1="1018.60" x2="1296.51" y2="1023.60" stroke="#222" stroke-width="1.3" />
<line x1="1299.99" y1="1018.60" x2="1299.99" y2="1023.60" stroke="#222" stroke-width="1.3" />
<line x1="1303.05" y1="1018.60" x2="1303.05" y2="1023.60" stroke="#222" stroke-width="1.3" />
<line x1="1305.80" y1="1018.60" x2="1305.80" y2="1028.10" stroke="#111" stroke-width="2.3" />
<line x1="1323.86" y1="1018.60" x2="1323.86" y2="1023.60" stroke="#222" stroke-width="1.3" />
<line x1="1334.43" y1="1018.60" x2="1334.43" y2="1023.60" stroke="#222" stroke-width="1.3" />
<line x1="1341.92" y1="1018.60" x2="1341.92" y2="1023.60" stroke="#222" stroke-width="1.3" />
<line x1="1347.74" y1="1018.60" x2="1347.74" y2="1023.60" stroke="#222" stroke-width="1.3" />
<line x1="1352.49" y1="1018.60" x2="1352.49" y2="1023.60" stroke="#222" stroke-width="1.3" />
<line x1="1356.51" y1="1018.60" x2="1356.51" y2="1023.60" stroke="#222" stroke-width="1.3" />
<line x1="1359.99" y1="1018.60" x2="1359.99" y2="1023.60" stroke="#222" stroke-width="1.3" />
<line x1="1363.05" y1="1018.60" x2="1363.05" y2="1023.60" stroke="#222" stroke-width="1.3" />
<line x1="1365.80" y1="1018.60" x2="1365.80" y2="1028.10" stroke="#111" stroke-width="2.3" />
<line x1="1383.86" y1="1018.60" x2="1383.86" y2="1023.60" stroke="#222" stroke-width="1.3" />
<line x1="1394.43" y1="1018.60" x2="1394.43" y2="1023.60" stroke="#222" stroke-width="1.3" />
<line x1="1401.92" y1="1018.60" x2="1401.92" y2="1023.60" stroke="#222" stroke-width="1.3" />
<line x1="1407.74" y1="1018.60" x2="1407.74" y2="1023.60" stroke="#222" stroke-width="1.3" />
<line x1="1412.49" y1="1018.60" x2="1412.49" y2="1023.60" stroke="#222" stroke-width="1.3" />
<line x1="1416.51" y1="1018.60" x2="1416.51" y2="1023.60" stroke="#222" stroke-width="1.3" />
<line x1="1419.99" y1="1018.60" x2="1419.99" y2="1023.60" stroke="#222" stroke-width="1.3" />
<line x1="1423.05" y1="1018.60" x2="1423.05" y2="1023.60" stroke="#222" stroke-width="1.3" />
<line x1="1425.80" y1="1018.60" x2="1425.80" y2="1028.10" stroke="#111" stroke-width="2.3" />
<line x1="1443.86" y1="1018.60" x2="1443.86" y2="1023.60" stroke="#222" stroke-width="1.3" />
<line x1="1454.43" y1="1018.60" x2="1454.43" y2="1023.60" stroke="#222" stroke-width="1.3" />
<line x1="1461.92" y1="1018.60" x2="1461.92" y2="1023.60" stroke="#222" stroke-width="1.3" />
<line x1="1467.74" y1="1018.60" x2="1467.74" y2="1023.60" stroke="#222" stroke-width="1.3" />
<line x1="1472.49" y1="1018.60" x2="1472.49" y2="1023.60" stroke="#222" stroke-width="1.3" />
<line x1="1476.51" y1="1018.60" x2="1476.51" y2="1023.60" stroke="#222" stroke-width="1.3" />
<line x1="1479.99" y1="1018.60" x2="1479.99" y2="1023.60" stroke="#222" stroke-width="1.3" />
<line x1="1483.05" y1="1018.60" x2="1483.05" y2="1023.60" stroke="#222" stroke-width="1.3" />
<line x1="1485.80" y1="1018.60" x2="1485.80" y2="1028.10" stroke="#111" stroke-width="2.3" />
<line x1="1503.86" y1="1018.60" x2="1503.86" y2="1023.60" stroke="#222" stroke-width="1.3" />
<text x="1191.24" y="1057.10" font-size="12.50" fill="#222"><tspan font-family="NanumGothic, Liberation Sans, sans-serif" font-weight="400" font-size="11.46">1</tspan>0<tspan dx="0.60" dy="-10.00">0</tspan></text>
<text x="1239.64" y="1057.10" font-size="12.50" fill="#222"><tspan font-family="NanumGothic, Liberation Sans, sans-serif" font-weight="400" font-size="11.46">1</tspan>0<tspan dx="0.60" dy="-10.00"><tspan font-family="NanumGothic, Liberation Sans, sans-serif" font-weight="400" font-size="11.46">1</tspan></tspan></text>
<text x="1299.64" y="1057.10" font-size="12.50" fill="#222"><tspan font-family="NanumGothic, Liberation Sans, sans-serif" font-weight="400" font-size="11.46">1</tspan>0<tspan dx="0.60" dy="-10.00">2</tspan></text>
<text x="1359.64" y="1057.10" font-size="12.50" fill="#222"><tspan font-family="NanumGothic, Liberation Sans, sans-serif" font-weight="400" font-size="11.46">1</tspan>0<tspan dx="0.60" dy="-10.00">3</tspan></text>
<text x="1419.64" y="1057.10" font-size="12.50" fill="#222"><tspan font-family="NanumGothic, Liberation Sans, sans-serif" font-weight="400" font-size="11.46">1</tspan>0<tspan dx="0.60" dy="-10.00">4</tspan></text>
<text x="1479.64" y="1057.10" font-size="12.50" fill="#222"><tspan font-family="NanumGothic, Liberation Sans, sans-serif" font-weight="400" font-size="11.46">1</tspan>0<tspan dx="0.60" dy="-10.00">5</tspan></text>
<text x="1334.76" y="1084.60" font-size="15.0" font-weight="normal" fill="#222" >APC-A</text>
<text x="1138.90" y="875.95" transform="rotate(-90 1138.90 875.95)" font-size="16.0" font-weight="normal" fill="#222">Count</text>
<text x="1288.11" y="676.60" font-size="25.5" font-weight="bold" fill="#000" >ITP-NC-EVs</text>
<line x1="1320.00" y1="863.30" x2="1505.40" y2="863.30" stroke="#000" stroke-width="3" />
<line x1="1320.00" y1="857.30" x2="1320.00" y2="869.30" stroke="#000" stroke-width="2.6" />
<line x1="1505.40" y1="857.30" x2="1505.40" y2="869.30" stroke="#000" stroke-width="2.6" />
<text x="1384.47" y="853.00" font-size="22.2" font-weight="bold" fill="#000" >2.2<tspan font-family="NanumGothic, Liberation Sans, sans-serif" font-weight="800" font-size="20.36">1</tspan>%</text>
<path d="M1586.8,1016.4 L1589.5,1004.3 L1592.5,968.8 L1594.8,986.6 L1597.1,1004.3 L1600.7,976.8 L1603.2,981.2 L1606.0,975.9 L1608.2,981.2 L1610.8,961.7 L1614.4,959.0 L1617.0,950.7 L1619.7,930.6 L1621.5,920.1 L1623.8,926.1 L1626.8,917.3 L1629.5,906.6 L1632.1,890.7 L1636.0,863.9 L1638.9,868.8 L1642.2,832.0 L1645.9,813.5 L1647.9,831.6 L1650.4,843.3 L1653.2,842.0 L1657.3,860.4 L1661.4,885.1 L1665.5,905.6 L1671.6,946.4 L1677.7,970.9 L1683.9,990.4 L1692.0,997.5 L1700.2,1007.4 L1708.4,1012.6 L1724.7,1014.3 L1749.2,1015.0 L1760.0,1016.4 Z" fill="#d2d2d2" stroke="#828282" stroke-width="2" stroke-linejoin="round"/>
<path d="M1586.8,1016.8 L1589.5,1004.3 L1592.5,968.8 L1594.8,986.6 L1597.1,1004.3 L1600.7,976.8 L1603.2,981.2 L1606.0,975.9 L1608.2,981.2 L1610.8,961.7 L1614.4,959.0 L1617.0,951.0 L1619.7,933.3 L1621.5,923.5 L1623.8,927.1 L1626.8,917.3 L1629.5,906.6 L1632.1,890.7 L1636.0,863.9 L1638.9,868.8 L1642.2,832.0 L1645.9,813.6 L1647.9,832.0 L1650.4,844.3 L1653.2,843.1 L1657.3,860.6 L1661.4,885.1 L1665.5,905.6 L1671.6,946.4 L1677.7,971.0 L1683.9,991.4 L1692.0,999.5 L1700.2,1007.7 L1708.4,1012.6 L1724.7,1014.3 L1749.2,1015.0 L1760.0,1016.4 Z" fill="#afafaf" stroke="#828282" stroke-width="2" stroke-linejoin="round"/>
<rect x="1577" y="692.1" width="325.4000000000001" height="324.29999999999995" fill="none" stroke="#111" stroke-width="1.6"/>
<line x1="1567.56" y1="1016.40" x2="1577.00" y2="1016.40" stroke="#111" stroke-width="2.3" />
<text x="1553.97" y="1015.90" font-size="13.7172" font-weight="normal" fill="#222" >0</text>
<line x1="1572.23" y1="1002.60" x2="1577.00" y2="1002.60" stroke="#222" stroke-width="1.3" />
<line x1="1572.23" y1="988.80" x2="1577.00" y2="988.80" stroke="#222" stroke-width="1.3" />
<line x1="1572.23" y1="975.00" x2="1577.00" y2="975.00" stroke="#222" stroke-width="1.3" />
<line x1="1572.23" y1="961.20" x2="1577.00" y2="961.20" stroke="#222" stroke-width="1.3" />
<line x1="1567.56" y1="947.40" x2="1577.00" y2="947.40" stroke="#111" stroke-width="2.3" />
<text x="1546.35" y="956.84" font-size="13.7172" font-weight="normal" fill="#222" >50</text>
<line x1="1572.23" y1="933.60" x2="1577.00" y2="933.60" stroke="#222" stroke-width="1.3" />
<line x1="1572.23" y1="919.80" x2="1577.00" y2="919.80" stroke="#222" stroke-width="1.3" />
<line x1="1572.23" y1="906.00" x2="1577.00" y2="906.00" stroke="#222" stroke-width="1.3" />
<line x1="1572.23" y1="892.20" x2="1577.00" y2="892.20" stroke="#222" stroke-width="1.3" />
<line x1="1567.56" y1="878.40" x2="1577.00" y2="878.40" stroke="#111" stroke-width="2.3" />
<text x="1538.72" y="887.84" font-size="13.7172" font-weight="normal" fill="#222" ><tspan font-family="NanumGothic, Liberation Sans, sans-serif" font-weight="400" font-size="12.58">1</tspan>00</text>
<line x1="1572.23" y1="864.60" x2="1577.00" y2="864.60" stroke="#222" stroke-width="1.3" />
<line x1="1572.23" y1="850.80" x2="1577.00" y2="850.80" stroke="#222" stroke-width="1.3" />
<line x1="1572.23" y1="837.00" x2="1577.00" y2="837.00" stroke="#222" stroke-width="1.3" />
<line x1="1572.23" y1="823.20" x2="1577.00" y2="823.20" stroke="#222" stroke-width="1.3" />
<line x1="1567.56" y1="809.40" x2="1577.00" y2="809.40" stroke="#111" stroke-width="2.3" />
<text x="1538.72" y="818.84" font-size="13.7172" font-weight="normal" fill="#222" ><tspan font-family="NanumGothic, Liberation Sans, sans-serif" font-weight="400" font-size="12.58">1</tspan>50</text>
<line x1="1572.23" y1="795.60" x2="1577.00" y2="795.60" stroke="#222" stroke-width="1.3" />
<line x1="1572.23" y1="781.80" x2="1577.00" y2="781.80" stroke="#222" stroke-width="1.3" />
<line x1="1572.23" y1="768.00" x2="1577.00" y2="768.00" stroke="#222" stroke-width="1.3" />
<line x1="1572.23" y1="754.20" x2="1577.00" y2="754.20" stroke="#222" stroke-width="1.3" />
<line x1="1567.56" y1="740.40" x2="1577.00" y2="740.40" stroke="#111" stroke-width="2.3" />
<text x="1538.72" y="749.84" font-size="13.7172" font-weight="normal" fill="#222" >200</text>
<line x1="1572.23" y1="726.60" x2="1577.00" y2="726.60" stroke="#222" stroke-width="1.3" />
<line x1="1572.23" y1="712.80" x2="1577.00" y2="712.80" stroke="#222" stroke-width="1.3" />
<line x1="1572.23" y1="699.00" x2="1577.00" y2="699.00" stroke="#222" stroke-width="1.3" />
<line x1="1577.00" y1="1016.40" x2="1577.00" y2="1025.84" stroke="#111" stroke-width="2.3" />
<line x1="1594.88" y1="1016.40" x2="1594.88" y2="1021.37" stroke="#222" stroke-width="1.3" />
<line x1="1605.34" y1="1016.40" x2="1605.34" y2="1021.37" stroke="#222" stroke-width="1.3" />
<line x1="1612.76" y1="1016.40" x2="1612.76" y2="1021.37" stroke="#222" stroke-width="1.3" />
<line x1="1618.52" y1="1016.40" x2="1618.52" y2="1021.37" stroke="#222" stroke-width="1.3" />
<line x1="1623.22" y1="1016.40" x2="1623.22" y2="1021.37" stroke="#222" stroke-width="1.3" />
<line x1="1627.20" y1="1016.40" x2="1627.20" y2="1021.37" stroke="#222" stroke-width="1.3" />
<line x1="1630.64" y1="1016.40" x2="1630.64" y2="1021.37" stroke="#222" stroke-width="1.3" />
<line x1="1633.68" y1="1016.40" x2="1633.68" y2="1021.37" stroke="#222" stroke-width="1.3" />
<line x1="1636.40" y1="1016.40" x2="1636.40" y2="1025.84" stroke="#111" stroke-width="2.3" />
<line x1="1654.28" y1="1016.40" x2="1654.28" y2="1021.37" stroke="#222" stroke-width="1.3" />
<line x1="1664.74" y1="1016.40" x2="1664.74" y2="1021.37" stroke="#222" stroke-width="1.3" />
<line x1="1672.16" y1="1016.40" x2="1672.16" y2="1021.37" stroke="#222" stroke-width="1.3" />
<line x1="1677.92" y1="1016.40" x2="1677.92" y2="1021.37" stroke="#222" stroke-width="1.3" />
<line x1="1682.62" y1="1016.40" x2="1682.62" y2="1021.37" stroke="#222" stroke-width="1.3" />
<line x1="1686.60" y1="1016.40" x2="1686.60" y2="1021.37" stroke="#222" stroke-width="1.3" />
<line x1="1690.04" y1="1016.40" x2="1690.04" y2="1021.37" stroke="#222" stroke-width="1.3" />
<line x1="1693.08" y1="1016.40" x2="1693.08" y2="1021.37" stroke="#222" stroke-width="1.3" />
<line x1="1695.80" y1="1016.40" x2="1695.80" y2="1025.84" stroke="#111" stroke-width="2.3" />
<line x1="1713.68" y1="1016.40" x2="1713.68" y2="1021.37" stroke="#222" stroke-width="1.3" />
<line x1="1724.14" y1="1016.40" x2="1724.14" y2="1021.37" stroke="#222" stroke-width="1.3" />
<line x1="1731.56" y1="1016.40" x2="1731.56" y2="1021.37" stroke="#222" stroke-width="1.3" />
<line x1="1737.32" y1="1016.40" x2="1737.32" y2="1021.37" stroke="#222" stroke-width="1.3" />
<line x1="1742.02" y1="1016.40" x2="1742.02" y2="1021.37" stroke="#222" stroke-width="1.3" />
<line x1="1746.00" y1="1016.40" x2="1746.00" y2="1021.37" stroke="#222" stroke-width="1.3" />
<line x1="1749.44" y1="1016.40" x2="1749.44" y2="1021.37" stroke="#222" stroke-width="1.3" />
<line x1="1752.48" y1="1016.40" x2="1752.48" y2="1021.37" stroke="#222" stroke-width="1.3" />
<line x1="1755.20" y1="1016.40" x2="1755.20" y2="1025.84" stroke="#111" stroke-width="2.3" />
<line x1="1773.08" y1="1016.40" x2="1773.08" y2="1021.37" stroke="#222" stroke-width="1.3" />
<line x1="1783.54" y1="1016.40" x2="1783.54" y2="1021.37" stroke="#222" stroke-width="1.3" />
<line x1="1790.96" y1="1016.40" x2="1790.96" y2="1021.37" stroke="#222" stroke-width="1.3" />
<line x1="1796.72" y1="1016.40" x2="1796.72" y2="1021.37" stroke="#222" stroke-width="1.3" />
<line x1="1801.42" y1="1016.40" x2="1801.42" y2="1021.37" stroke="#222" stroke-width="1.3" />
<line x1="1805.40" y1="1016.40" x2="1805.40" y2="1021.37" stroke="#222" stroke-width="1.3" />
<line x1="1808.84" y1="1016.40" x2="1808.84" y2="1021.37" stroke="#222" stroke-width="1.3" />
<line x1="1811.88" y1="1016.40" x2="1811.88" y2="1021.37" stroke="#222" stroke-width="1.3" />
<line x1="1814.60" y1="1016.40" x2="1814.60" y2="1025.84" stroke="#111" stroke-width="2.3" />
<line x1="1832.48" y1="1016.40" x2="1832.48" y2="1021.37" stroke="#222" stroke-width="1.3" />
<line x1="1842.94" y1="1016.40" x2="1842.94" y2="1021.37" stroke="#222" stroke-width="1.3" />
<line x1="1850.36" y1="1016.40" x2="1850.36" y2="1021.37" stroke="#222" stroke-width="1.3" />
<line x1="1856.12" y1="1016.40" x2="1856.12" y2="1021.37" stroke="#222" stroke-width="1.3" />
<line x1="1860.82" y1="1016.40" x2="1860.82" y2="1021.37" stroke="#222" stroke-width="1.3" />
<line x1="1864.80" y1="1016.40" x2="1864.80" y2="1021.37" stroke="#222" stroke-width="1.3" />
<line x1="1868.24" y1="1016.40" x2="1868.24" y2="1021.37" stroke="#222" stroke-width="1.3" />
<line x1="1871.28" y1="1016.40" x2="1871.28" y2="1021.37" stroke="#222" stroke-width="1.3" />
<line x1="1874.00" y1="1016.40" x2="1874.00" y2="1025.84" stroke="#111" stroke-width="2.3" />
<line x1="1891.88" y1="1016.40" x2="1891.88" y2="1021.37" stroke="#222" stroke-width="1.3" />
<text x="1582.48" y="1054.67" font-size="12.43" fill="#222"><tspan font-family="NanumGothic, Liberation Sans, sans-serif" font-weight="400" font-size="11.39">1</tspan>0<tspan dx="0.60" dy="-9.94">0</tspan></text>
<text x="1630.35" y="1054.67" font-size="12.43" fill="#222"><tspan font-family="NanumGothic, Liberation Sans, sans-serif" font-weight="400" font-size="11.39">1</tspan>0<tspan dx="0.60" dy="-9.94"><tspan font-family="NanumGothic, Liberation Sans, sans-serif" font-weight="400" font-size="11.39">1</tspan></tspan></text>
<text x="1689.75" y="1054.67" font-size="12.43" fill="#222"><tspan font-family="NanumGothic, Liberation Sans, sans-serif" font-weight="400" font-size="11.39">1</tspan>0<tspan dx="0.60" dy="-9.94">2</tspan></text>
<text x="1749.15" y="1054.67" font-size="12.43" fill="#222"><tspan font-family="NanumGothic, Liberation Sans, sans-serif" font-weight="400" font-size="11.39">1</tspan>0<tspan dx="0.60" dy="-9.94">3</tspan></text>
<text x="1808.55" y="1054.67" font-size="12.43" fill="#222"><tspan font-family="NanumGothic, Liberation Sans, sans-serif" font-weight="400" font-size="11.39">1</tspan>0<tspan dx="0.60" dy="-9.94">4</tspan></text>
<text x="1867.95" y="1054.67" font-size="12.43" fill="#222"><tspan font-family="NanumGothic, Liberation Sans, sans-serif" font-weight="400" font-size="11.39">1</tspan>0<tspan dx="0.60" dy="-9.94">5</tspan></text>
<text x="1714.21" y="1082.00" font-size="14.91" font-weight="normal" fill="#222" >APC-A</text>
<text x="1530.30" y="874.40" transform="rotate(-90 1530.30 874.40)" font-size="15.904" font-weight="normal" fill="#222">Count</text>
<text x="1618.24" y="676.60" font-size="25.5" font-weight="bold" fill="#000" >ITP-miR-<tspan font-family="NanumGothic, Liberation Sans, sans-serif" font-weight="800" font-size="23.38">1</tspan>99a-5p-EVs</text>
<line x1="1710.40" y1="862.70" x2="1894.30" y2="862.70" stroke="#000" stroke-width="3" />
<line x1="1710.40" y1="856.70" x2="1710.40" y2="868.70" stroke="#000" stroke-width="2.6" />
<line x1="1894.30" y1="856.70" x2="1894.30" y2="868.70" stroke="#000" stroke-width="2.6" />
<text x="1776.19" y="850.40" font-size="22.2" font-weight="bold" fill="#000" ><tspan font-family="NanumGothic, Liberation Sans, sans-serif" font-weight="800" font-size="20.36">1</tspan>.<tspan font-family="NanumGothic, Liberation Sans, sans-serif" font-weight="800" font-size="20.36">1</tspan>0%</text>
</svg></body></html>
